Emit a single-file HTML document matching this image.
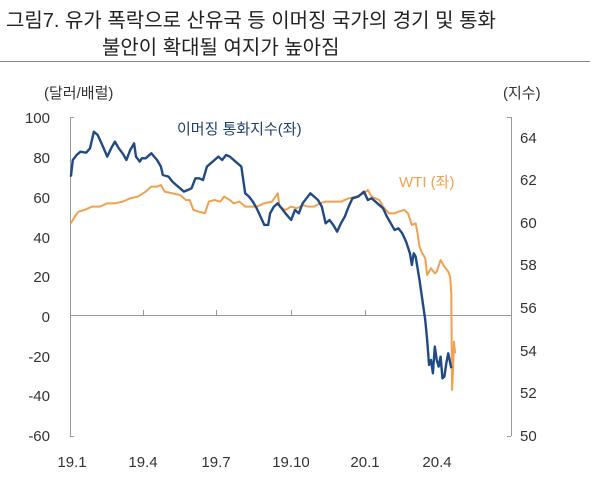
<!DOCTYPE html>
<html><head><meta charset="utf-8"><style>
html,body{margin:0;padding:0;background:#fff;}
body{width:600px;height:485px;overflow:hidden;position:relative;font-family:"Liberation Sans","Noto Sans CJK KR",sans-serif;}
.t{position:absolute;left:6px;font-size:20px;color:#222;white-space:nowrap;}
</style></head><body>
<div class="t" style="top:4px;">그림7. 유가 폭락으로 산유국 등 이머징 국가의 경기 및 통화</div>
<div class="t" style="top:31px;left:102px;">불안이 확대될 여지가 높아짐</div>
<svg width="600" height="485" style="position:absolute;left:0;top:0" font-family="Liberation Sans, Noto Sans CJK KR, sans-serif">
<line x1="0" y1="61.5" x2="590" y2="61.5" stroke="#888" stroke-width="1"/>
<g fill="#333" font-size="15">
<text x="44" y="98">(달러/배럴)</text>
<text x="503" y="98">(지수)</text>
<g text-anchor="end">
<text x="50" y="123">100</text><text x="50" y="163">80</text><text x="50" y="203">60</text><text x="50" y="243">40</text><text x="50" y="282">20</text><text x="50" y="322">0</text><text x="50" y="362">-20</text><text x="50" y="401">-40</text><text x="50" y="441">-60</text>
</g>
<text x="520" y="143">64</text><text x="520" y="185">62</text><text x="520" y="228">60</text><text x="520" y="270">58</text><text x="520" y="313">56</text><text x="520" y="356">54</text><text x="520" y="398">52</text><text x="520" y="441">50</text>
<g text-anchor="middle">
<text x="72" y="467">19.1</text><text x="143" y="467">19.4</text><text x="216" y="467">19.7</text><text x="291" y="467">19.10</text><text x="365" y="467">20.1</text><text x="437" y="467">20.4</text>
</g>
</g>
<text x="177" y="134" font-size="15" fill="#1f3f6e">이머징 통화지수(좌)</text>
<text x="399" y="187" font-size="15" fill="#f0a050">WTI (좌)</text>
<g stroke="#999" stroke-width="1" fill="none">
<line x1="70.5" y1="117" x2="70.5" y2="436"/>
<line x1="70" y1="117.5" x2="74" y2="117.5"/><line x1="70" y1="436.5" x2="74" y2="436.5"/>
<line x1="511.5" y1="117" x2="511.5" y2="436"/>
<line x1="507" y1="117.5" x2="511" y2="117.5"/><line x1="507" y1="436.5" x2="511" y2="436.5"/>
<line x1="70" y1="315.5" x2="511" y2="315.5"/>
<line x1="143.5" y1="310" x2="143.5" y2="315"/><line x1="216.5" y1="310" x2="216.5" y2="315"/><line x1="291.5" y1="310" x2="291.5" y2="315"/><line x1="365.5" y1="310" x2="365.5" y2="315"/>
</g>
<g transform="translate(0,60) scale(0.3831,0.3333)" fill="none" stroke-linejoin="round">
<polyline vector-effect="non-scaling-stroke" stroke="#f0a050" stroke-width="2" points="185,490 195,470 205,455 220,450 240,440 260,440 280,430 300,430 320,425 340,415 360,410 380,395 395,380 410,380 420,375 430,395 450,400 470,405 485,420 495,420 505,450 520,455 535,460 545,425 560,420 575,425 585,410 600,420 610,430 625,425 640,440 655,440 670,440 690,430 710,425 725,400 730,440 745,450 760,440 775,445 790,435 805,440 820,440 835,430 850,425 870,425 890,425 910,415 930,410 950,400 960,390 970,410 990,420 1000,440 1015,460 1030,460 1040,455 1055,450 1065,460 1075,495 1085,490 1090,520 1095,560 1100,575 1110,595 1115,645 1125,625 1135,640 1140,635 1150,600 1160,620 1170,635 1175,650 1178,700 1180,990 1183,920 1185,845 1188,880"/>
<polyline vector-effect="non-scaling-stroke" stroke="#1f4a85" stroke-width="2.4" points="185,350 190,300 200,285 210,275 225,278 235,265 245,215 255,225 265,250 280,290 290,265 300,245 310,265 320,280 330,300 340,270 350,250 355,290 365,305 370,295 380,295 395,280 410,300 420,320 425,345 440,350 450,365 460,375 470,385 480,395 490,390 500,385 510,355 520,355 530,360 540,320 550,310 560,300 570,290 580,300 590,285 600,290 610,300 620,310 630,320 635,360 640,400 650,410 660,425 670,445 680,470 690,495 700,495 705,460 715,440 725,430 735,445 745,460 760,480 770,450 780,460 790,430 800,415 810,400 820,410 830,420 840,440 850,490 860,480 870,495 880,515 890,490 900,470 910,440 920,415 935,410 950,395 960,420 970,415 985,430 1000,445 1010,470 1020,490 1030,510 1040,505 1050,520 1060,545 1070,580 1075,615 1080,580 1085,590 1095,660 1100,700 1105,740 1110,780 1115,840 1120,915 1125,900 1130,940 1135,860 1140,900 1145,920 1150,890 1155,955 1160,950 1165,910 1170,880 1178,925"/>
</g>
</svg>
</body></html>
